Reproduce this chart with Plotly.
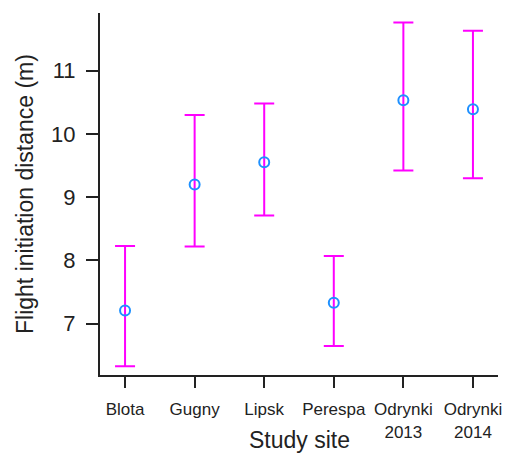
import plotly.graph_objects as go

# Flight initiation distance by study site: mean with interval bounds
sites = ["Blota", "Gugny", "Lipsk", "Perespa", "Odrynki<br>2013", "Odrynki<br>2014"]
mean_fid = [7.21, 9.20, 9.55, 7.33, 10.53, 10.39]
upper_fid = [8.23, 10.30, 10.48, 8.07, 11.76, 11.63]
lower_fid = [6.33, 8.22, 8.71, 6.65, 9.42, 9.30]
y_ticks = [7, 8, 9, 10, 11]

x_pos = list(range(1, len(sites) + 1))
err_plus = [u - m for u, m in zip(upper_fid, mean_fid)]
err_minus = [m - l for m, l in zip(mean_fid, lower_fid)]

fig = go.Figure(
    go.Scatter(
        x=x_pos,
        y=mean_fid,
        mode="markers",
        marker=dict(symbol="circle-open", size=10, color="#1E90FF",
                    line=dict(width=2, color="#1E90FF")),
        error_y=dict(type="data", symmetric=False, array=err_plus,
                     arrayminus=err_minus, color="#FF00FF",
                     thickness=2, width=10),
        showlegend=False,
    )
)

axis_font = "Liberation Sans, Arial, sans-serif"
fig.update_layout(
    width=509,
    height=459,
    margin=dict(l=100, r=11, t=13, b=84),
    plot_bgcolor="white",
    paper_bgcolor="white",
    font=dict(family=axis_font, color="#222"),
    xaxis=dict(
        range=[0.64, 6.36],
        tickmode="array",
        tickvals=x_pos,
        ticktext=sites,
        ticks="outside",
        ticklen=11,
        tickwidth=2,
        tickcolor="#222",
        showline=True,
        linecolor="#222",
        linewidth=2,
        showgrid=False,
        zeroline=False,
        automargin=False,
        ticklabelstandoff=7,
        tickfont=dict(size=17, color="#222"),
    ),
    yaxis=dict(
        range=[6.19, 11.91],
        tickmode="array",
        tickvals=y_ticks,
        ticks="outside",
        ticklen=12,
        tickwidth=2,
        tickcolor="#222",
        showline=True,
        linecolor="#222",
        linewidth=2,
        showgrid=False,
        zeroline=False,
        automargin=False,
        ticklabelstandoff=6,
        tickfont=dict(size=22, color="#222"),
    ),
    annotations=[
        dict(text="Flight initiation distance (m)", xref="paper", yref="paper",
             x=0, y=0.5, xshift=-75, textangle=-90, showarrow=False,
             xanchor="center", yanchor="middle",
             font=dict(size=23, color="#222")),
        dict(text="Study site", xref="paper", yref="paper",
             x=0.5, y=0, yshift=-65, showarrow=False,
             xanchor="center", yanchor="middle",
             font=dict(size=23, color="#222")),
    ],
)

fig.write_html("out.html")
